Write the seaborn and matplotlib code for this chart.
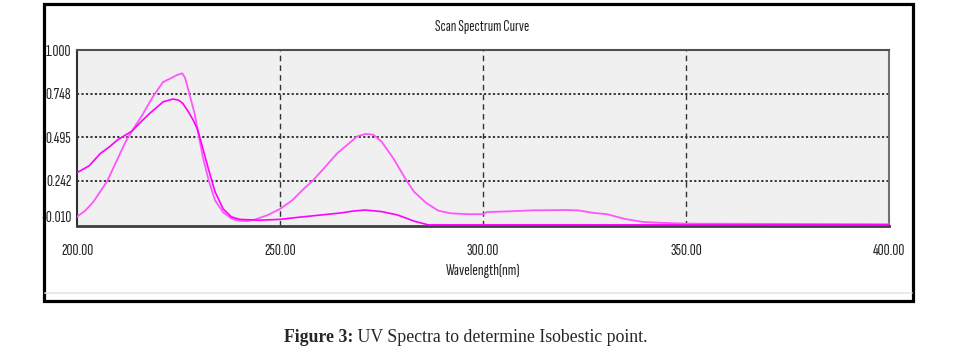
import numpy as np
import pandas as pd
import seaborn as sns
import matplotlib
matplotlib.use("Agg")
import matplotlib.pyplot as plt
from matplotlib.patches import Rectangle
from matplotlib.lines import Line2D
from matplotlib.transforms import ScaledTranslation

# ---- data ----
wl_a = [200, 202, 204, 206, 207.4, 209, 210.6, 212, 213.5, 216, 218.7, 221.2, 223, 224.6, 225.9,
        226.6, 227.3, 228.2, 229, 229.7, 231, 232.5, 234, 236, 238, 240, 242, 244, 247, 250,
        253, 256, 258, 261, 264, 267, 269, 271, 273, 275, 278, 281, 283, 286, 289,
        292, 296, 300, 301, 306, 312, 320, 323.5, 325, 327, 330.5, 335, 339.4, 344, 350, 400]
abs_a = [0.035, 0.07, 0.12, 0.19, 0.24, 0.32, 0.40, 0.47, 0.53, 0.62, 0.73, 0.815, 0.835, 0.855, 0.865,
         0.84, 0.78, 0.70, 0.63, 0.54, 0.38, 0.24, 0.13, 0.06, 0.025, 0.012, 0.01, 0.02, 0.045, 0.08,
         0.13, 0.20, 0.242, 0.32, 0.40, 0.46, 0.50, 0.514, 0.51, 0.47, 0.37, 0.25, 0.18, 0.115, 0.07,
         0.055, 0.05, 0.05, 0.062, 0.066, 0.072, 0.074, 0.072, 0.066, 0.058, 0.05, 0.022, 0.005, 0.0, -0.005, -0.008]

wl_b = [200, 201.5, 203, 205.7, 208, 210, 213.5, 216, 218, 220, 221.2, 223.6, 225, 226.1, 227.5,
        228.6, 229.7, 231, 232.5, 234, 236, 238, 240, 245, 250, 255, 260, 265, 268, 271,
        275, 279, 283, 286.5, 290, 400]
abs_b = [0.29, 0.31, 0.33, 0.40, 0.44, 0.48, 0.53, 0.59, 0.635, 0.675, 0.70, 0.716, 0.71, 0.69, 0.64,
         0.595, 0.54, 0.43, 0.30, 0.18, 0.08, 0.035, 0.02, 0.015, 0.02, 0.033, 0.045, 0.057, 0.068, 0.074,
         0.065, 0.045, 0.01, -0.012, -0.012, -0.012]

x_ticks = [200, 250, 300, 350, 400]
x_tick_labels = ["200.00", "250.00", "300.00", "350.00", "400.00"]
y_ticks = [-0.010, 0.242, 0.495, 0.748, 1.000]
y_tick_labels = ["-0.010", "0.242", "0.495", "0.748", "1.000"]

title = "Scan Spectrum Curve"
x_label = "Wavelength(nm)"

# ---- style ----
sns.set_style("white")
narrow = ["Sofia Sans Extra Condensed", "Fira Sans Extra Condensed", "Roboto Condensed", "DejaVu Sans"]
serif = ["Liberation Serif", "DejaVu Serif"]
plt.rcParams["font.family"] = narrow

fig = plt.figure(figsize=(9.77, 3.52), dpi=100)
ax = fig.add_axes([77 / 977, 1 - 226 / 352, (889 - 77) / 977, (226 - 50) / 352])
ax.set_facecolor("#f0f0f0")

df_a = pd.DataFrame({"wl": wl_a, "abs": abs_a})
df_b = pd.DataFrame({"wl": wl_b, "abs": abs_b})
sns.lineplot(data=df_a, x="wl", y="abs", ax=ax, color="#ff55ff", lw=1.3, sort=False, zorder=3)
sns.lineplot(data=df_b, x="wl", y="abs", ax=ax, color="#ff00ff", lw=1.2, sort=False, zorder=3)

ax.set_xlim(200, 400)
ax.set_ylim(-0.0185, 1.0)

# grid
for yv in y_ticks[1:-1]:
    ax.axhline(yv, color="#333333", lw=1.4, linestyle=(0, (1.1, 1.2)), zorder=2)
for xv in x_ticks[1:-1]:
    ax.axvline(xv, color="#333333", lw=1.0, linestyle=(0, (4, 3)), zorder=2)

ax.set_xticks(x_ticks)
ax.set_xticklabels(x_tick_labels, fontsize=12, color="#222222")
ax.set_yticks(y_ticks)
ax.set_yticklabels(y_tick_labels, fontsize=12, color="#222222")
ax.tick_params(axis="both", length=0)
ax.tick_params(axis="x", pad=13)
ax.tick_params(axis="y", pad=4)
# raise the lowest y label like the reference
lab = ax.get_yticklabels()[0]
lab.set_transform(lab.get_transform() + ScaledTranslation(0, 6 / 72, fig.dpi_scale_trans))

ax.set_xlabel("")
ax.set_ylabel("")

for side, c, lw in [("top", "#505050", 1.5), ("left", "#303030", 1.5),
                    ("bottom", "#404040", 2.0), ("right", "#707070", 1.5)]:
    ax.spines[side].set_visible(True)
    ax.spines[side].set_color(c)
    ax.spines[side].set_linewidth(lw)

# texts
fig.text(482 / 977, 1 - 27 / 352, title, ha="center", va="center", fontsize=11.5, color="#222222")
fig.text(483 / 977, 1 - 271 / 352, x_label, ha="center", va="center", fontsize=12, color="#222222")

# outer frame
fig.add_artist(Line2D([45 / 977, 912 / 977], [1 - 293 / 352, 1 - 293 / 352],
                      transform=fig.transFigure, color="#e6e6e6", lw=1.2))
fig.add_artist(Rectangle((44 / 977, 1 - 301 / 352), 869 / 977, 297 / 352,
                         transform=fig.transFigure, fill=False, edgecolor="black", lw=2.3))

# caption: bold lead + regular text, centred together
t1 = fig.text(0, 0, "Figure 3:", fontsize=12.8, fontweight="bold", family=serif)
t2 = fig.text(0, 0, " UV Spectra to determine Isobestic point.", fontsize=12.8, family=serif)
fig.canvas.draw()
r = fig.canvas.get_renderer()
w1 = t1.get_window_extent(r).width
w2 = t2.get_window_extent(r).width
x0 = 466 - (w1 + w2) / 2
yc = 1 - 338 / 352
t1.set_position((x0 / 977, yc))
t1.set_va("center")
t2.set_position(((x0 + w1) / 977, yc))
t2.set_va("center")

fig.savefig("out.png", dpi=100, facecolor="white")
